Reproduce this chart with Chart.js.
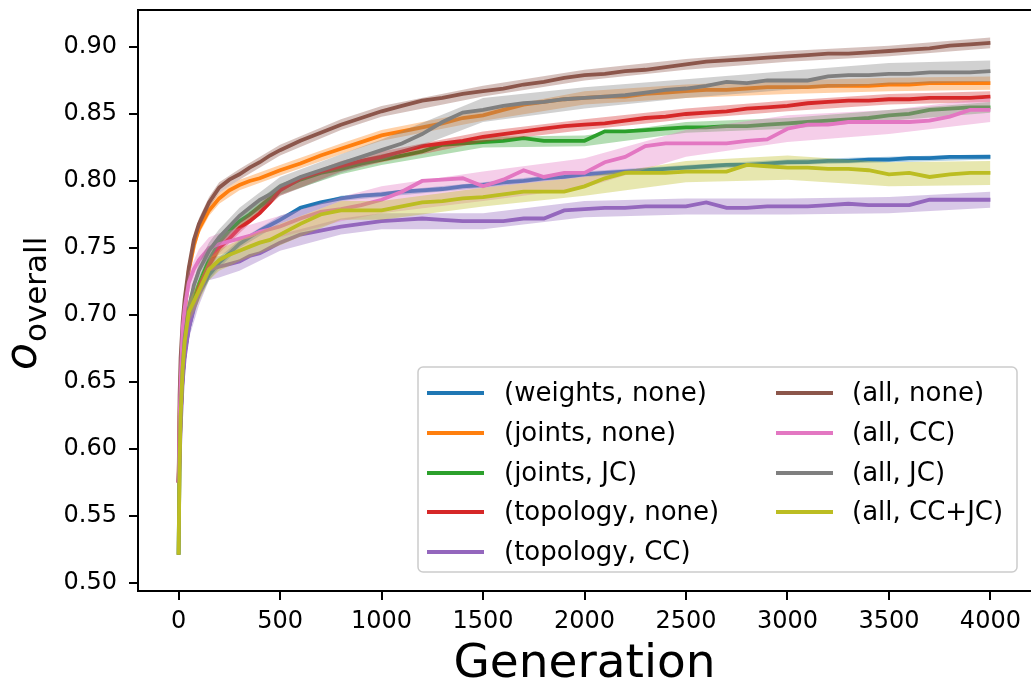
<!DOCTYPE html>
<html>
<head>
<meta charset="utf-8">
<title>o_overall vs generation</title>
<script src="https://cdn.jsdelivr.net/npm/chart.js@4/dist/chart.umd.min.js"></script>
<style>
  html, body { margin: 0; padding: 0; background: #fff; }
  canvas { display: block; }
</style>
</head>
<body>
<canvas id="chart" width="1031" height="692"></canvas>
<script>
const generations = [0, 5, 10, 20, 30, 50, 75, 100, 150, 200, 250, 300, 350, 400, 450, 500,
  600, 700, 800, 900, 1000, 1100, 1200, 1300, 1400, 1500, 1600, 1700, 1800, 1900, 2000,
  2100, 2200, 2300, 2400, 2500, 2600, 2700, 2800, 2900, 3000, 3100, 3200, 3300, 3400, 3500,
  3600, 3700, 3800, 3900, 4000];

const meanWeightsNone = [0.575, 0.605, 0.630, 0.655, 0.672, 0.690, 0.706, 0.716, 0.730, 0.739, 0.746, 0.753, 0.758, 0.763, 0.767, 0.771,
  0.780, 0.784, 0.787, 0.789, 0.790, 0.792, 0.793, 0.794, 0.796, 0.797, 0.799, 0.800, 0.802, 0.803, 0.805,
  0.806, 0.807, 0.808, 0.809, 0.810, 0.811, 0.812, 0.812, 0.813, 0.814, 0.814, 0.815, 0.815, 0.816, 0.816,
  0.817, 0.817, 0.818, 0.818, 0.818];
const meanJointsNone = [0.575, 0.625, 0.652, 0.680, 0.700, 0.733, 0.752, 0.764, 0.778, 0.787, 0.793, 0.797, 0.800, 0.802, 0.805, 0.808,
  0.813, 0.819, 0.824, 0.829, 0.834, 0.837, 0.840, 0.843, 0.847, 0.849, 0.853, 0.857, 0.859, 0.861, 0.862,
  0.863, 0.863, 0.865, 0.866, 0.867, 0.868, 0.868, 0.869, 0.870, 0.870, 0.870, 0.871, 0.871, 0.871, 0.872,
  0.872, 0.873, 0.873, 0.873, 0.873];
const meanJointsJC = [0.521, 0.598, 0.625, 0.655, 0.673, 0.695, 0.712, 0.723, 0.741, 0.754, 0.763, 0.770, 0.775, 0.781, 0.787, 0.794,
  0.801, 0.806, 0.809, 0.813, 0.816, 0.819, 0.822, 0.827, 0.828, 0.829, 0.830, 0.832, 0.830, 0.830, 0.830,
  0.837, 0.837, 0.838, 0.839, 0.840, 0.840, 0.841, 0.841, 0.842, 0.843, 0.844, 0.845, 0.846, 0.847, 0.849,
  0.850, 0.853, 0.854, 0.855, 0.855];
const meanTopologyNone = [0.575, 0.600, 0.625, 0.655, 0.672, 0.693, 0.708, 0.720, 0.737, 0.750, 0.757, 0.765, 0.770, 0.776, 0.784, 0.793,
  0.802, 0.807, 0.811, 0.815, 0.818, 0.822, 0.826, 0.828, 0.830, 0.833, 0.835, 0.837, 0.839, 0.841, 0.842,
  0.843, 0.845, 0.847, 0.848, 0.850, 0.851, 0.852, 0.854, 0.855, 0.856, 0.858, 0.859, 0.860, 0.860, 0.861,
  0.861, 0.862, 0.862, 0.862, 0.863];
const meanTopologyCC = [0.575, 0.590, 0.615, 0.650, 0.668, 0.690, 0.705, 0.715, 0.734, 0.736, 0.738, 0.740, 0.744, 0.746, 0.750, 0.754,
  0.760, 0.763, 0.766, 0.768, 0.770, 0.771, 0.772, 0.771, 0.770, 0.770, 0.770, 0.772, 0.772, 0.778, 0.779,
  0.780, 0.780, 0.781, 0.781, 0.781, 0.784, 0.780, 0.780, 0.781, 0.781, 0.781, 0.782, 0.783, 0.782, 0.782,
  0.782, 0.786, 0.786, 0.786, 0.786];
const meanAllNone = [0.575, 0.640, 0.668, 0.695, 0.712, 0.735, 0.756, 0.768, 0.784, 0.795, 0.801, 0.805, 0.810, 0.814, 0.819, 0.823,
  0.830, 0.836, 0.842, 0.847, 0.852, 0.856, 0.860, 0.862, 0.865, 0.867, 0.869, 0.872, 0.874, 0.877, 0.879,
  0.880, 0.882, 0.883, 0.885, 0.887, 0.889, 0.890, 0.891, 0.892, 0.893, 0.894, 0.895, 0.895, 0.896, 0.897,
  0.898, 0.899, 0.901, 0.902, 0.903];
const meanAllCC = [0.575, 0.620, 0.650, 0.690, 0.705, 0.724, 0.734, 0.741, 0.750, 0.753, 0.755, 0.757, 0.759, 0.762, 0.764, 0.766,
  0.772, 0.777, 0.779, 0.782, 0.786, 0.792, 0.800, 0.801, 0.802, 0.796, 0.801, 0.808, 0.803, 0.806, 0.806,
  0.814, 0.818, 0.826, 0.828, 0.828, 0.828, 0.828, 0.830, 0.831, 0.839, 0.842, 0.842, 0.844, 0.844, 0.844,
  0.844, 0.845, 0.848, 0.853, 0.853];
const meanAllJC = [0.521, 0.595, 0.625, 0.660, 0.683, 0.705, 0.722, 0.733, 0.748, 0.758, 0.766, 0.774, 0.780, 0.786, 0.790, 0.796,
  0.803, 0.808, 0.813, 0.818, 0.823, 0.828, 0.835, 0.844, 0.851, 0.853, 0.856, 0.858, 0.859, 0.861, 0.862,
  0.863, 0.864, 0.866, 0.868, 0.869, 0.871, 0.874, 0.873, 0.875, 0.875, 0.875, 0.878, 0.879, 0.879, 0.880,
  0.880, 0.881, 0.881, 0.881, 0.882];
const meanAllCCJC = [0.521, 0.590, 0.625, 0.660, 0.680, 0.702, 0.710, 0.718, 0.734, 0.741, 0.745, 0.748, 0.751, 0.754, 0.756, 0.760,
  0.768, 0.775, 0.778, 0.778, 0.778, 0.781, 0.784, 0.785, 0.787, 0.788, 0.790, 0.792, 0.792, 0.792, 0.796,
  0.802, 0.806, 0.806, 0.806, 0.807, 0.807, 0.807, 0.812, 0.811, 0.810, 0.810, 0.809, 0.809, 0.808, 0.805,
  0.806, 0.803, 0.805, 0.806, 0.806];

// half width of the shaded band, read at a coarser set of generations
const bandGenerations = [0, 5, 10, 20, 30, 50, 100, 150, 200, 300, 500, 800, 1000, 1500, 2000, 2500, 3000, 3500, 4000];
const spreadWeightsNone = [0.001, 0.004, 0.005, 0.005, 0.005, 0.005, 0.004, 0.004, 0.004, 0.003, 0.003, 0.002, 0.002, 0.002, 0.002, 0.002, 0.002, 0.002, 0.002];
const spreadJointsNone = [0.001, 0.004, 0.005, 0.005, 0.005, 0.004, 0.004, 0.004, 0.004, 0.004, 0.004, 0.004, 0.004, 0.004, 0.005, 0.005, 0.005, 0.005, 0.005];
const spreadJointsJC = [0.001, 0.005, 0.006, 0.006, 0.006, 0.005, 0.005, 0.005, 0.005, 0.005, 0.004, 0.004, 0.004, 0.004, 0.004, 0.004, 0.004, 0.004, 0.004];
const spreadTopologyNone = [0.001, 0.004, 0.005, 0.005, 0.005, 0.005, 0.004, 0.004, 0.004, 0.004, 0.004, 0.004, 0.004, 0.004, 0.004, 0.004, 0.004, 0.004, 0.004];
const spreadTopologyCC = [0.001, 0.006, 0.008, 0.008, 0.008, 0.008, 0.008, 0.008, 0.008, 0.007, 0.006, 0.006, 0.006, 0.006, 0.006, 0.006, 0.006, 0.006, 0.006];
const spreadAllNone = [0.001, 0.004, 0.004, 0.004, 0.004, 0.004, 0.004, 0.004, 0.004, 0.004, 0.004, 0.004, 0.004, 0.004, 0.004, 0.004, 0.004, 0.004, 0.004];
const spreadAllCC = [0.001, 0.006, 0.008, 0.008, 0.008, 0.008, 0.008, 0.008, 0.008, 0.008, 0.008, 0.009, 0.010, 0.011, 0.011, 0.010, 0.010, 0.009, 0.009];
const spreadAllJC = [0.001, 0.005, 0.006, 0.006, 0.006, 0.006, 0.006, 0.006, 0.006, 0.006, 0.007, 0.007, 0.008, 0.009, 0.008, 0.007, 0.007, 0.008, 0.008];
const spreadAllCCJC = [0.001, 0.006, 0.008, 0.008, 0.008, 0.008, 0.008, 0.008, 0.008, 0.008, 0.008, 0.007, 0.007, 0.007, 0.007, 0.008, 0.009, 0.009, 0.009];

const seriesNames = ["(weights, none)", "(joints, none)", "(joints, JC)", "(topology, none)", "(topology, CC)",
  "(all, none)", "(all, CC)", "(all, JC)", "(all, CC+JC)"];
const seriesColors = ["#1f77b4", "#ff7f0e", "#2ca02c", "#d62728", "#9467bd", "#8c564b", "#e377c2", "#7f7f7f", "#bcbd22"];
const seriesMeans = [meanWeightsNone, meanJointsNone, meanJointsJC, meanTopologyNone, meanTopologyCC,
  meanAllNone, meanAllCC, meanAllJC, meanAllCCJC];
const seriesSpreads = [spreadWeightsNone, spreadJointsNone, spreadJointsJC, spreadTopologyNone, spreadTopologyCC,
  spreadAllNone, spreadAllCC, spreadAllJC, spreadAllCCJC];

const xTickValues = [0, 500, 1000, 1500, 2000, 2500, 3000, 3500, 4000];
const yTickValues = [0.50, 0.55, 0.60, 0.65, 0.70, 0.75, 0.80, 0.85, 0.90];

const FONT = "'DejaVu Sans', 'Liberation Sans', sans-serif";

function withAlpha(hex, a) {
  const n = parseInt(hex.slice(1), 16);
  return `rgba(${(n >> 16) & 255}, ${(n >> 8) & 255}, ${n & 255}, ${a})`;
}

// lower band edge, upper band edge (filled down to lower), then the mean line.
// later series get a lower `order` so they are painted on top, like matplotlib.
let datasets = [];
seriesMeans.forEach((mean, i) => {
  const color = seriesColors[i];
  const base = (seriesMeans.length - i) * 3;
  const bandIdx = bandGenerations.map(g => generations.indexOf(g));
  const lower = bandIdx.map((k, j) => ({x: generations[k], y: mean[k] - seriesSpreads[i][j]}));
  const upper = bandIdx.map((k, j) => ({x: generations[k], y: mean[k] + seriesSpreads[i][j]}));

  datasets.push({
    label: seriesNames[i] + " lower",
    data: lower,
    borderWidth: 0,
    pointRadius: 0,
    fill: false,
    order: base + 2
  });
  datasets.push({
    label: seriesNames[i] + " upper",
    data: upper,
    borderWidth: 0,
    pointRadius: 0,
    backgroundColor: withAlpha(color, 0.36),
    fill: "-1",
    order: base + 1
  });
  datasets.push({
    label: seriesNames[i],
    data: generations.map((g, k) => ({x: g, y: mean[k]})),
    borderColor: color,
    borderWidth: 3.8,
    pointRadius: 0,
    fill: false,
    tension: 0,
    order: base
  });
});

const decorations = {
  id: "decorations",
  afterDraw(chart) {
    const ctx = chart.ctx;
    const area = chart.chartArea;
    ctx.save();

    // top spine
    ctx.strokeStyle = "#000";
    ctx.lineWidth = 2;
    ctx.beginPath();
    ctx.moveTo(area.left - 1, area.top);
    ctx.lineTo(area.right, area.top);
    ctx.stroke();

    ctx.fillStyle = "#000";

    // x axis title
    ctx.font = `47px ${FONT}`;
    ctx.textAlign = "center";
    ctx.textBaseline = "alphabetic";
    ctx.fillText("Generation", (area.left + area.right) / 2, 677);

    // y axis title: italic o with an "overall" subscript
    ctx.save();
    ctx.translate(36, 370);
    ctx.rotate(-Math.PI / 2);
    ctx.textAlign = "left";
    ctx.font = `italic 44px ${FONT}`;
    ctx.fillText("o", 0, 0);
    const w = ctx.measureText("o").width;
    ctx.font = `31px ${FONT}`;
    ctx.fillText("overall", w + 1, 10);
    ctx.restore();

    // legend box, two columns
    const bx = 418, by = 367, bw = 599, bh = 205;
    ctx.beginPath();
    ctx.roundRect(bx, by, bw, bh, 5);
    ctx.fillStyle = "rgba(255, 255, 255, 0.8)";
    ctx.fill();
    ctx.strokeStyle = "#cccccc";
    ctx.lineWidth = 1.5;
    ctx.stroke();

    const lineX = [427, 776];
    const textX = [504, 852];
    const rowY = [393, 433, 473, 512, 552];
    ctx.font = `26px ${FONT}`;
    ctx.textAlign = "left";
    ctx.textBaseline = "middle";
    seriesNames.forEach((name, i) => {
      const col = i < 5 ? 0 : 1;
      const y = rowY[col === 0 ? i : i - 5];
      ctx.strokeStyle = seriesColors[i];
      ctx.lineWidth = 4;
      ctx.beginPath();
      ctx.moveTo(lineX[col], y);
      ctx.lineTo(lineX[col] + 57, y);
      ctx.stroke();
      ctx.fillStyle = "#000";
      ctx.fillText(name, textX[col], y + 1);
    });

    ctx.restore();
  }
};

new Chart(document.getElementById("chart"), {
  type: "line",
  data: {datasets: datasets},
  options: {
    responsive: false,
    devicePixelRatio: 1,
    animation: false,
    events: [],
    layout: {padding: {top: 10, left: 0, right: 0, bottom: 0}},
    plugins: {
      legend: {display: false},
      tooltip: {enabled: false},
      title: {display: false}
    },
    scales: {
      x: {
        type: "linear",
        min: -200,
        max: 4200,
        afterBuildTicks: scale => { scale.ticks = xTickValues.map(v => ({value: v})); },
        afterFit: scale => { scale.height = 101; scale.paddingLeft = 0; scale.paddingRight = 0; },
        grid: {drawOnChartArea: false, drawTicks: true, tickLength: 9, lineWidth: 2, color: "#000"},
        border: {display: true, color: "#000", width: 2},
        ticks: {
          color: "#000",
          padding: 7,
          maxRotation: 0,
          font: {family: FONT, size: 24},
          callback: v => String(v)
        }
      },
      y: {
        type: "linear",
        min: 0.494,
        max: 0.9276,
        afterBuildTicks: scale => { scale.ticks = yTickValues.map(v => ({value: v})); },
        afterFit: scale => { scale.width = 138; scale.paddingTop = 0; scale.paddingBottom = 0; },
        grid: {drawOnChartArea: false, drawTicks: true, tickLength: 9, lineWidth: 2, color: "#000"},
        border: {display: true, color: "#000", width: 2},
        ticks: {
          color: "#000",
          padding: 12,
          font: {family: FONT, size: 24},
          callback: v => Number(v).toFixed(2)
        }
      }
    }
  },
  plugins: [decorations]
});
</script>
</body>
</html>
